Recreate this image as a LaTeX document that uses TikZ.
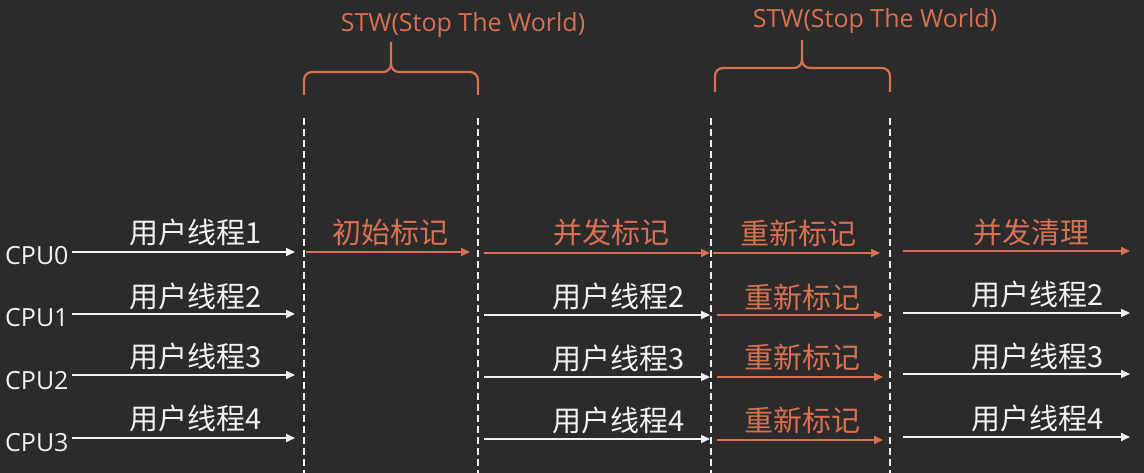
\documentclass[tikz,border=0pt]{standalone}
\usepackage{fontspec}
\setmainfont{Open Sans}
\newfontfamily\cjk{Noto Sans CJK SC}
\usetikzlibrary{arrows.meta}
\definecolor{bg}{RGB}{43,43,43}
\definecolor{org}{RGB}{216,113,82}
\definecolor{wht}{RGB}{242,242,242}
\begin{document}
\begin{tikzpicture}[x=1pt,y=1pt,
  wa/.style={draw=wht,line width=2pt,-{Triangle[length=9pt,width=8pt]}},
  oa/.style={draw=org,line width=2pt,-{Triangle[length=9pt,width=8pt]}},
  wl/.style={text=wht,font=\cjk\fontsize{29}{30}\selectfont,inner sep=0pt},
  ol/.style={wl,text=org},
  cpulab/.style={text=wht,font=\fontsize{25}{26}\selectfont,anchor=west,inner sep=0pt},
  vl/.style={draw=wht,line width=2pt,dash pattern=on 7pt off 4pt},
  br/.style={draw=org,line width=2.2pt},
  stw/.style={text=org,font=\fontsize{25}{26}\selectfont,inner sep=0pt,anchor=base}]
\fill[bg] (0,0) rectangle (1144,473);
\useasboundingbox (0,0) rectangle (1144,473);

% vertical dashed lines
\coordinate (v1t) at (304,355); \coordinate (v1b) at (304,0);
\coordinate (v2t) at (478,355); \coordinate (v2b) at (478,0);
\coordinate (v3t) at (711,355); \coordinate (v3b) at (711,0);
\coordinate (v4t) at (890,355); \coordinate (v4b) at (890,0);
\draw[vl] (v1t) -- (v1b);
\draw[vl] (v2t) -- (v2b);
\draw[vl] (v3t) -- (v3b);
\draw[vl] (v4t) -- (v4b);

% braces
\coordinate (b1l) at (304,378); \coordinate (b1r) at (478,378); \coordinate (b1t) at (391,431);
\draw[br] (b1l) -- (304,393) to[out=90,in=180] (312,401) -- (383,401) to[out=0,in=-90] (391,409) -- (b1t);
\draw[br] (b1r) -- (478,393) to[out=90,in=0] (470,401) -- (399,401) to[out=180,in=-90] (391,409);
\coordinate (b2l) at (715,381); \coordinate (b2r) at (890,381); \coordinate (b2t) at (802,433);
\draw[br] (b2l) -- (715,397) to[out=90,in=180] (723,405) -- (794,405) to[out=0,in=-90] (802,413) -- (b2t);
\draw[br] (b2r) -- (890,397) to[out=90,in=0] (882,405) -- (810,405) to[out=180,in=-90] (802,413);
\node[stw] (stw1) at (463,441) {STW(Stop The World)};
\node[stw] (stw2) at (875,445) {STW(Stop The World)};

% CPU labels
\node[cpulab] (cpu0) at (5,217) {CPU0};
\node[cpulab] (cpu1) at (5,155) {CPU1};
\node[cpulab] (cpu2) at (5,92) {CPU2};
\node[cpulab] (cpu3) at (5,30) {CPU3};

% column 1
\coordinate (a10) at (72,221); \coordinate (e10) at (295,221);
\coordinate (a11) at (72,159); \coordinate (e11) at (295,159);
\coordinate (a12) at (72,98);  \coordinate (e12) at (295,98);
\coordinate (a13) at (72,35);  \coordinate (e13) at (295,35);
\draw[wa] (a10) -- (e10); \draw[wa] (a11) -- (e11);
\draw[wa] (a12) -- (e12); \draw[wa] (a13) -- (e13);
\node[wl] (l10) at (196,240) {用户线程1};
\node[wl] (l11) at (196,176) {用户线程2};
\node[wl] (l12) at (196,116) {用户线程3};
\node[wl] (l13) at (196,55)  {用户线程4};

% column 2
\coordinate (a20) at (306,221); \coordinate (e20) at (470,221);
\draw[oa] (a20) -- (e20);
\node[ol] (l20) at (390,241) {初始标记};

% column 3
\coordinate (a30) at (484,220); \coordinate (e30) at (710,220);
\coordinate (a31) at (484,158); \coordinate (e31) at (710,158);
\coordinate (a32) at (484,96);  \coordinate (e32) at (710,96);
\coordinate (a33) at (484,34);  \coordinate (e33) at (710,34);
\draw[oa] (a30) -- (e30);
\draw[wa] (a31) -- (e31); \draw[wa] (a32) -- (e32); \draw[wa] (a33) -- (e33);
\node[ol] (l30) at (611,240) {并发标记};
\node[wl] (l31) at (619,176) {用户线程2};
\node[wl] (l32) at (619,115) {用户线程3};
\node[wl] (l33) at (619,53)  {用户线程4};

% column 4
\coordinate (a40) at (713,220); \coordinate (e40) at (880,220);
\coordinate (a41) at (717,158); \coordinate (e41) at (883,158);
\coordinate (a42) at (717,96);  \coordinate (e42) at (883,96);
\coordinate (a43) at (717,33);  \coordinate (e43) at (883,33);
\draw[oa] (a40) -- (e40); \draw[oa] (a41) -- (e41);
\draw[oa] (a42) -- (e42); \draw[oa] (a43) -- (e43);
\node[ol] (l40) at (798,240) {重新标记};
\node[ol] (l41) at (802,176) {重新标记};
\node[ol] (l42) at (802,116) {重新标记};
\node[ol] (l43) at (802,53)  {重新标记};

% column 5
\coordinate (a50) at (903,222); \coordinate (e50) at (1130,222);
\coordinate (a51) at (903,160); \coordinate (e51) at (1130,160);
\coordinate (a52) at (903,99);  \coordinate (e52) at (1130,99);
\coordinate (a53) at (903,36);  \coordinate (e53) at (1130,36);
\draw[oa] (a50) -- (e50);
\draw[wa] (a51) -- (e51); \draw[wa] (a52) -- (e52); \draw[wa] (a53) -- (e53);
\node[ol] (l50) at (1031,240) {并发清理};
\node[wl] (l51) at (1038,178) {用户线程2};
\node[wl] (l52) at (1038,116) {用户线程3};
\node[wl] (l53) at (1038,55)  {用户线程4};
\end{tikzpicture}
\end{document}
